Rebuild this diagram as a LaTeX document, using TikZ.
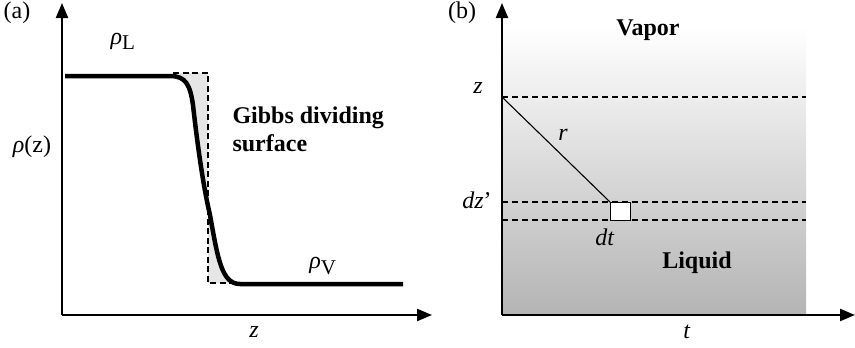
\documentclass[tikz,border=0pt]{standalone}
\usepackage{fontspec}
\setmainfont{Liberation Serif}
\usetikzlibrary{positioning, arrows.meta}
\definecolor{stepGrey}{HTML}{E6E6E6}
\definecolor{liquidGrey}{HTML}{B4B4B4}

\begin{document}
\begin{tikzpicture}[x=1pt, y=-1pt,
    font=\fontsize{24}{28}\selectfont,
    axis/.style={line width=2.2pt, -{Triangle[length=15pt, width=12pt]}},
    profile/.style={line width=4.5pt, line join=round},
    gibbs/.style={line width=1.8pt, dash pattern=on 6pt off 3.5pt},
    layer/.style={line width=1.4pt, dash pattern=on 6pt off 4pt}]
    \useasboundingbox (0,0) rectangle (855,348);

    % (a) density profile
    \coordinate (oa) at (62,315);
    \draw[axis] (oa) -- (62,3) coordinate (ya);
    \draw[axis] (oa) -- (432,315) coordinate (xa);
    \fill[stepGrey] (173,73) -- (208,73) -- (208,283) -- (238,283)
      .. controls (222,284) and (218,260) .. (210,215)
      .. controls (204,190) and (198,150) .. (193,105)
      .. controls (190,85) and (186,76) .. (173,76) -- cycle;
    \draw[gibbs] (173,73) -- (208,73) -- (208,283) -- (238,283);
    \draw[profile] (65,76) -- (170,76)
      .. controls (186,76) and (190,85) .. (193,105)
      .. controls (198,150) and (204,190) .. (210,215)
      .. controls (218,260) and (222,284) .. (240,284) -- (403,284);
    \node (la) at (17,13) {(a)};
    \node (rhoL) at (123,41) {\textit{ρ}\textsubscript{\fontsize{21}{24}\selectfont L}};
    \node (rhoz) at (32,147) {\textit{ρ}(z)};
    \node[font=\fontsize{24}{28}\selectfont\bfseries, align=left, anchor=west] (gds) at (229,129)
      {Gibbs dividing\\surface};
    \node (rhoV) at (323,266) {\textit{ρ}\textsubscript{\fontsize{21}{24}\selectfont V}};
    \node (za) at (254,332) {\textit{z}};

    % (b) slab geometry
    \shade[top color=white, bottom color=liquidGrey] (502,27) rectangle (806,315);
    \coordinate (ob) at (502,315);
    \draw[axis] (ob) -- (502,3) coordinate (yb);
    \draw[axis] (ob) -- (855,315) coordinate (xb);
    \coordinate (zp) at (502,97);
    \draw[layer] (zp) -- (806,97);
    \draw[layer] (502,202) -- (806,202);
    \draw[layer] (502,220) -- (806,220);
    \node[draw, line width=1.4pt, fill=white, minimum width=20pt, minimum height=18pt,
          inner sep=0pt, anchor=north west] (cell) at (610,202) {};
    \draw[line width=1.1pt] (zp) -- (cell.north west);
    \node (lb) at (462,13) {(b)};
    \node[font=\fontsize{24}{28}\selectfont\bfseries] (vap) at (648,30) {Vapor};
    \node (zb) at (478,88) {\textit{z}};
    \node (rr) at (563,135) {\textit{r}};
    \node (dz) at (477,200) {\textit{dz}’};
    \node (dt) at (605,237) {\textit{dt}};
    \node[font=\fontsize{24}{28}\selectfont\bfseries] (liq) at (697,263) {Liquid};
    \node (tb) at (687,332) {\textit{t}};
\end{tikzpicture}
\end{document}
